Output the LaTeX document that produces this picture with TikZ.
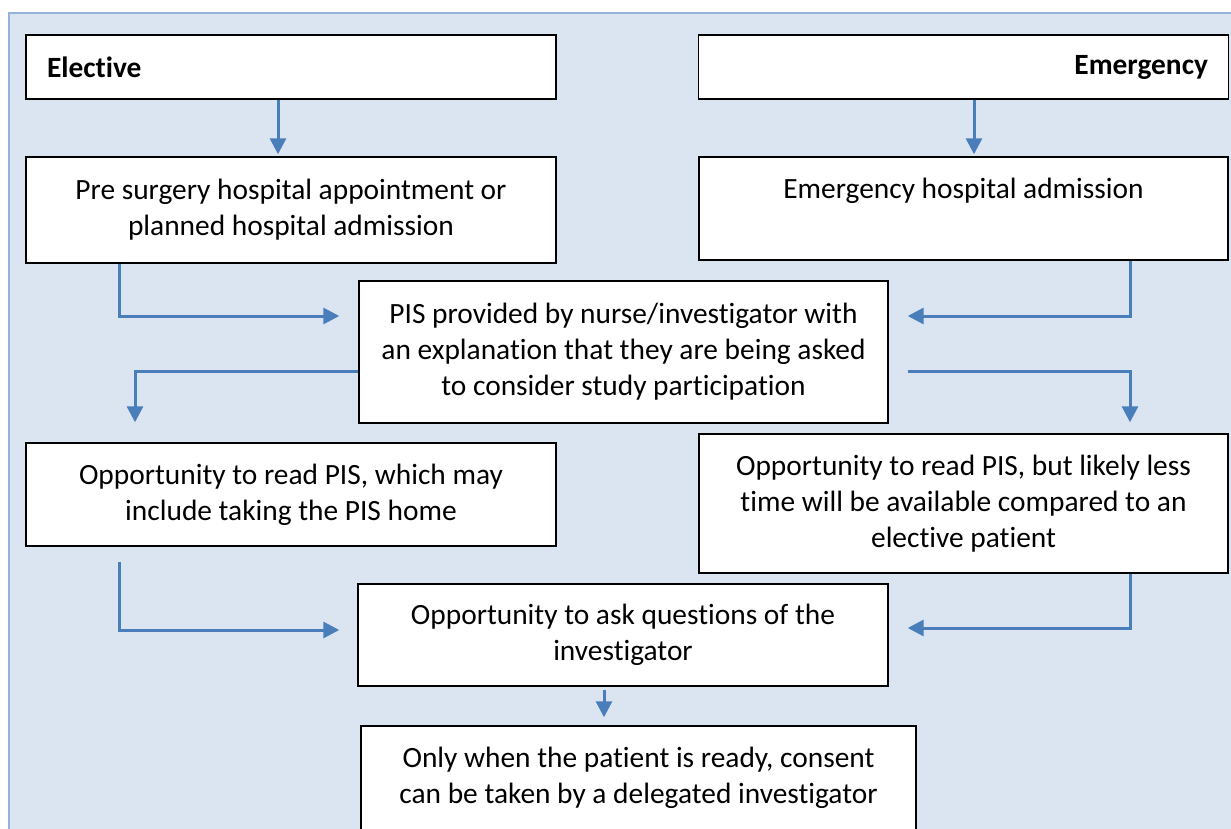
\documentclass[tikz,border=0pt]{standalone}
\usepackage{fontspec}
\setmainfont{Carlito}[Ligatures=NoCommon]
\usetikzlibrary{arrows.meta, calc}

\definecolor{panelfill}{HTML}{DBE5F1}
\definecolor{panelline}{HTML}{95B3D7}
\definecolor{flowblue}{HTML}{4A7EBB}

\begin{document}
\begin{tikzpicture}[x=0.5pt, y=-0.5pt,
    box/.style={draw=black, fill=white, line width=0.7pt, align=center,
        minimum width=265pt, inner sep=0pt,
        font=\fontsize{14.7pt}{18pt}\selectfont},
    flow/.style={draw=flowblue, line width=1.5pt,
        -{Triangle[length=8pt, width=8pt]}}]
\useasboundingbox (0,0) rectangle (1231,829);
\clip (0,0) rectangle (1231,829);

% Background panel
\draw[panelline, fill=panelfill, line width=0.8pt] (9,13) rectangle (1250,850);

% Two entry routes
\node[box, minimum height=32pt, text width=244pt, inner xsep=10.5pt, align=left,
    font=\fontsize{14.7pt}{18pt}\selectfont\bfseries] (elective) at (291,67) {Elective};
\node[box, minimum height=32pt, text width=244.5pt, inner xsep=10pt, align=right,
    font=\fontsize{14.7pt}{18pt}\selectfont\bfseries] (emergency) at (963.5,67) {Emergency};

\node[box, minimum height=53pt] (pre) at (291,210)
    {Pre surgery hospital appointment or\\ planned hospital admission};
\node[box, minimum height=51.5pt, minimum width=264.5pt] (admit) at (963.5,208.5)
    {Emergency hospital admission\\[2pt] \mbox{}};

% Information sheet
\node[box, minimum height=71pt, minimum width=264.5pt] (pis) at (623.5,352)
    {PIS provided by nurse/investigator with\\ an explanation that they are being asked\\ to consider study participation};

\node[box, minimum height=51.5pt] (readel) at (291,494.5)
    {Opportunity to read PIS, which may\\ include taking the PIS home};
\node[box, minimum height=69.5pt, minimum width=264.5pt] (readem) at (963.5,503.5)
    {Opportunity to read PIS, but likely less\\ time will be available compared to an\\ elective patient};

% Questions and consent
\node[box, minimum height=51pt] (ask) at (623,635)
    {Opportunity to ask questions of the\\ investigator};
\node[box, minimum height=52pt, minimum width=277.5pt] (consent) at (638.5,778)
    {Only when the patient is ready, consent\\ can be taken by a delegated investigator};

% Connectors
\draw[flow, shorten >=1pt] (elective.south -| 278,0) -- (pre.north -| 278,0);
\draw[flow, shorten >=1pt] (emergency.south -| 974,0) -- (admit.north -| 974,0);

\draw[flow, shorten >=9.5pt] (pre.south -| 119,0) |- ([yshift=18pt]pis.west);
\draw[flow, shorten >=9.5pt] (admit.south -| 1130,0) |- ([yshift=18pt]pis.east);

\draw[flow, shorten >=10pt] ([yshift=-9.5pt]pis.west) -| (readel.north -| 135,0);
\draw[flow, shorten <=9.5pt, shorten >=5.5pt] ([yshift=-9.5pt]pis.east) -| (readem.north -| 1130,0);

\draw[flow, shorten <=7.5pt, shorten >=9pt] (readel.south -| 119,0) |- ([yshift=2.5pt]ask.west);
\draw[flow, shorten >=9.5pt] (readem.south -| 1130,0) |- ([yshift=3.5pt]ask.east);

\draw[flow, shorten <=1.5pt, shorten >=4pt] (ask.south -| 604,0) -- (consent.north -| 604,0);
\end{tikzpicture}
\end{document}
